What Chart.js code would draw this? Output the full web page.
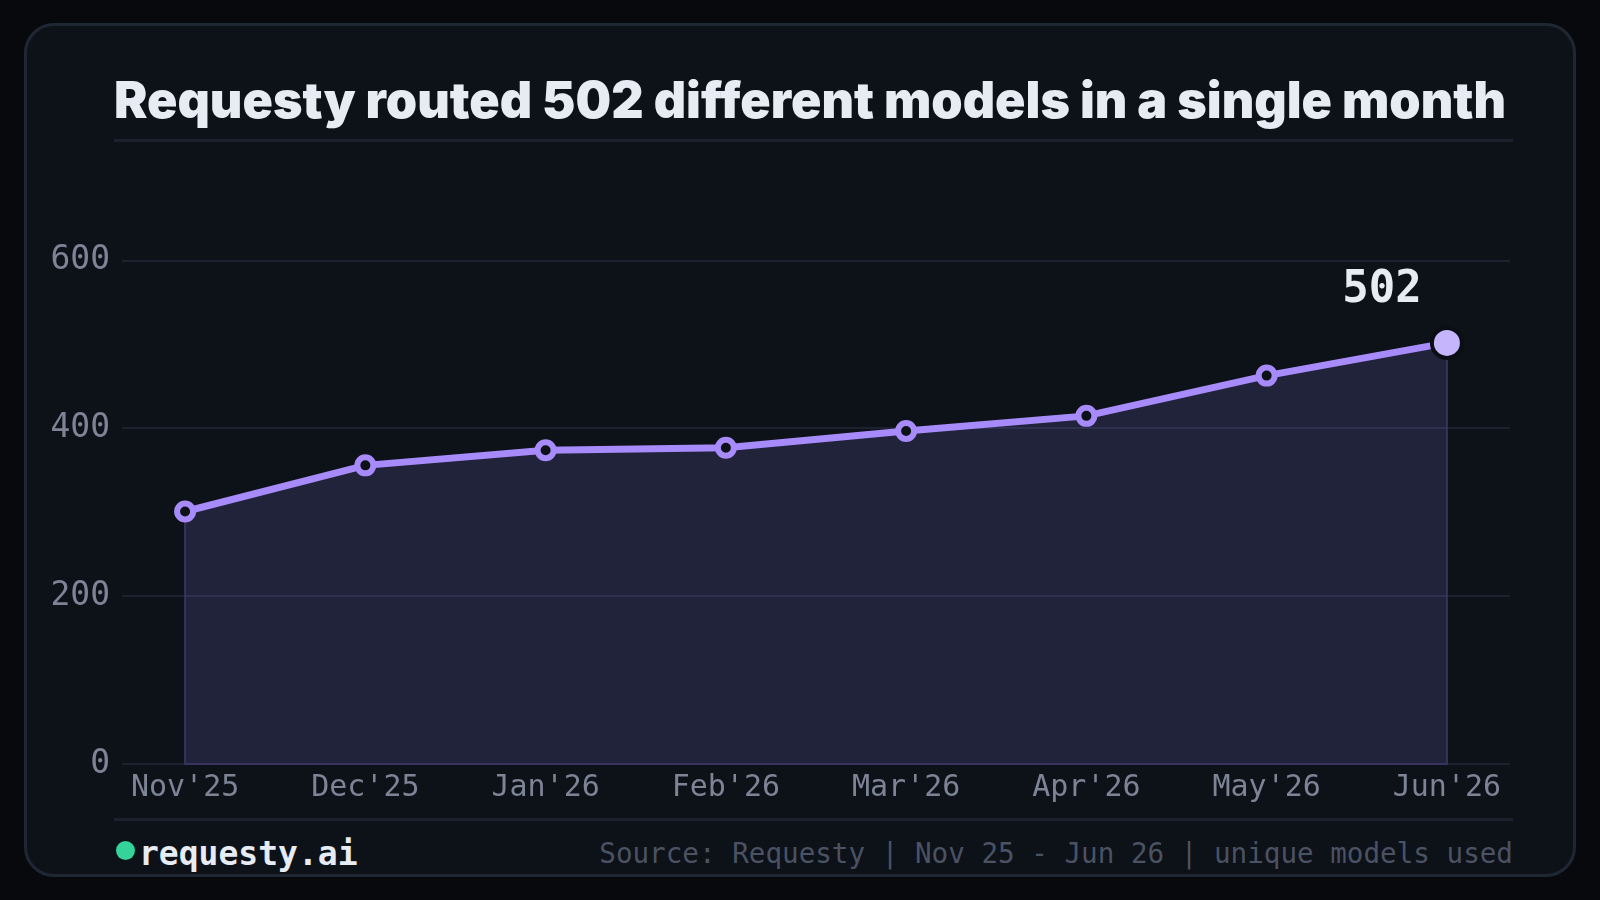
<!DOCTYPE html>
<html>
<head>
<meta charset="utf-8">
<script src="https://cdn.jsdelivr.net/npm/chart.js@4"></script>
<style>
  html, body { margin: 0; padding: 0; }
  body { width: 1600px; height: 900px; background: #07090d; position: relative; overflow: hidden; }
  .card { position: absolute; left: 24px; top: 23px; width: 1546px; height: 848px; background: #0d1118; border: 3px solid #202734; border-radius: 30px; }
  .title { position: absolute; left: 114px; top: 75px; font-family: Inter, sans-serif; font-weight: 900; font-size: 50.2px; line-height: 1; color: #e7ebf3; white-space: nowrap; letter-spacing: 0; }
  .rule { position: absolute; left: 114px; width: 1399px; height: 3px; background: #1a202c; }
  #wrap { position: absolute; left: 30px; top: 145px; width: 1500px; height: 685px; }
  .brand { position: absolute; left: 139px; top: 837px; font-family: "DejaVu Sans Mono", monospace; font-weight: bold; font-size: 33px; line-height: 1; color: #e7ebf3; }
  .dot { position: absolute; left: 116px; top: 841px; width: 19px; height: 19px; border-radius: 50%; background: #34d399; }
  .source { position: absolute; right: 87px; top: 840px; font-family: "DejaVu Sans Mono", monospace; font-size: 27.6px; line-height: 1; color: #4a5264; white-space: nowrap; }
</style>
</head>
<body>
<div class="card"></div>
<div class="title">Requesty routed 502 different models in a single month</div>
<div class="rule" style="top:139px"></div>
<div id="wrap"><canvas id="grafico" width="1500" height="685"></canvas></div>
<div class="rule" style="top:818px"></div>
<div class="dot"></div>
<div class="brand">requesty.ai</div>
<div class="source">Source: Requesty | Nov 25 - Jun 26 | unique models used</div>
<script>
// dados do gráfico
const meses = ["Nov'25", "Dec'25", "Jan'26", "Feb'26", "Mar'26", "Apr'26", "May'26", "Jun'26"];
const modelos = [301, 356, 374, 377, 397, 415, 463, 502];
const yTicks = [0, 200, 400, 600];

const ultimo = modelos.length - 1;
const roxo = "#a78bfa";
const fundo = "#0d1118";

// bordas da área preenchida (laterais e base)
const bordasArea = {
  id: "bordasArea",
  beforeDatasetDraw(chart) {
    const meta = chart.getDatasetMeta(0);
    const y0 = chart.scales.y.getPixelForValue(0);
    const p0 = meta.data[0];
    const p1 = meta.data[ultimo];
    const ctx = chart.ctx;
    ctx.save();
    ctx.strokeStyle = "#37325e";
    ctx.lineWidth = 2;
    ctx.beginPath();
    ctx.moveTo(p0.x, p0.y);
    ctx.lineTo(p0.x, y0);
    ctx.lineTo(p1.x, y0);
    ctx.lineTo(p1.x, p1.y);
    ctx.stroke();
    ctx.restore();
  },
};

// rótulo do último valor
const rotuloFinal = {
  id: "rotuloFinal",
  afterDatasetsDraw(chart) {
    const p = chart.getDatasetMeta(0).data[ultimo];
    const ctx = chart.ctx;
    ctx.save();
    ctx.font = "bold 44px 'DejaVu Sans Mono', monospace";
    ctx.fillStyle = "#e7ebf3";
    ctx.textAlign = "center";
    ctx.textBaseline = "alphabetic";
    ctx.fillText(String(modelos[ultimo]), p.x - 65, p.y - 41);
    ctx.restore();
  },
};

const ctx = document.getElementById("grafico").getContext("2d");
new Chart(ctx, {
  type: "line",
  data: {
    datasets: [
      {
        data: modelos.map((v, i) => ({ x: i, y: v })),
        borderColor: roxo,
        borderWidth: 7,
        tension: 0,
        fill: "origin",
        backgroundColor: "rgba(139, 122, 240, 0.17)",
        pointRadius: modelos.map((_, i) => (i === ultimo ? 15 : 8)),
        pointBorderWidth: modelos.map((_, i) => (i === ultimo ? 4 : 6)),
        pointBackgroundColor: modelos.map((_, i) => (i === ultimo ? "#c4b5fd" : fundo)),
        pointBorderColor: modelos.map((_, i) => (i === ultimo ? "#0b0e14" : roxo)),
      },
    ],
  },
  options: {
    responsive: false,
    animation: false,
    layout: { padding: { top: 20, right: 20, bottom: 26, left: 0 } },
    plugins: { legend: { display: false }, tooltip: { enabled: false } },
    scales: {
      x: {
        type: "linear",
        min: -0.35,
        max: 7.35,
        grid: { display: false, drawTicks: false },
        border: { display: false },
        afterBuildTicks: (s) => { s.ticks = meses.map((_, i) => ({ value: i })); },
        afterFit: (s) => { s.height = 40; },
        ticks: {
          padding: 6,
          maxRotation: 0,
          autoSkip: false,
          color: "#7c8496",
          font: { family: "'DejaVu Sans Mono', monospace", size: 30 },
          callback: (v) => meses[v],
        },
      },
      y: {
        min: 0,
        max: 700,
        grid: { color: "#1c2130", lineWidth: 2, drawTicks: false },
        border: { display: false },
        afterBuildTicks: (s) => { s.ticks = yTicks.map((v) => ({ value: v })); },
        afterFit: (s) => { s.width = 92; },
        ticks: {
          padding: 12,
          color: "#7c8496",
          font: { family: "'DejaVu Sans Mono', monospace", size: 33 },
        },
      },
    },
  },
  plugins: [bordasArea, rotuloFinal],
});
</script>
</body>
</html>
